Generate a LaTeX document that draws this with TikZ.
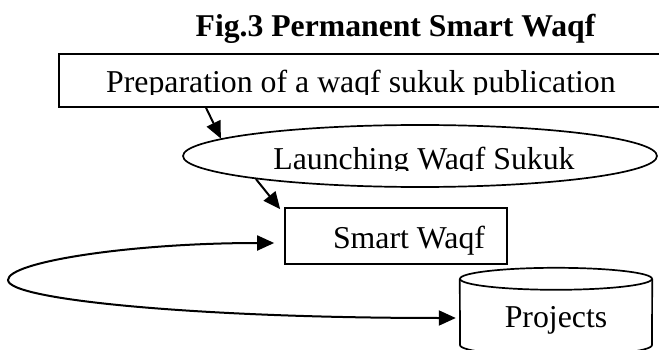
\documentclass[tikz,border=0pt]{standalone}
\usepackage{fontspec}
\setmainfont{Liberation Serif}
\usetikzlibrary{shapes.geometric,arrows.meta}
\begin{document}
\begin{tikzpicture}[x=1pt,y=-1pt,
  every node/.style={inner sep=0pt, font=\fontsize{31.8pt}{38pt}\selectfont},
  boxline/.style={draw, line width=1.7pt},
  flow/.style={line width=2pt, -{Triangle[length=17pt,width=15pt]}},
  loopflow/.style={line width=2pt, {Triangle[length=17pt,width=15pt]}-{Triangle[length=17pt,width=15pt]}}
]
\useasboundingbox (0,0) rectangle (659,350);

\node[anchor=base, font=\fontsize{31.7pt}{38pt}\selectfont\bfseries] (title) at (395.5,37) {Fig.3 Permanent Smart Waqf};

\node[boxline, anchor=north west, minimum width=642pt, minimum height=53pt] (prep) at (58,53) {};
\begin{scope}
  \clip (prep.north west) rectangle (prep.east |- 0,95);
  \node[anchor=base west] (preptext) at (106,92.5) {Preparation of a waqf sukuk publication};
\end{scope}

\node[boxline, ellipse, minimum width=474pt, minimum height=62pt] (launch) at (420,156) {};
\begin{scope}
  \clip (launch.west |- 0,120) rectangle (launch.east |- 0,170.5);
  \node[anchor=base] (launchtext) at (424,169.3) {Launching Waqf Sukuk};
\end{scope}

\node[boxline, minimum width=222pt, text height=40pt, text depth=16pt] (smart) at (396,236) {\hspace*{26pt}Smart Waqf};

\node[minimum width=192pt, text height=48pt, text depth=30pt] (projects) at (556,318) {Projects};
\draw[boxline] (projects.north) ellipse [x radius=96pt, y radius=11pt];
\draw[boxline] (projects.north west) -- (460,345) arc[start angle=180, end angle=360, x radius=96pt, y radius=11pt] -- (projects.north east);

\draw[flow] ([xshift=148pt]prep.south west) -- (launch.175);
\draw[flow] (launch.188) -- ([xshift=-4pt,yshift=-2pt]smart.north west);
\draw[loopflow] ([xshift=-10pt,yshift=-7pt]smart.west) .. controls (130,243) and (8,262) .. (8,280)
  .. controls (8,300) and (200,318) .. ([xshift=-4pt]projects.west);
\end{tikzpicture}
\end{document}
